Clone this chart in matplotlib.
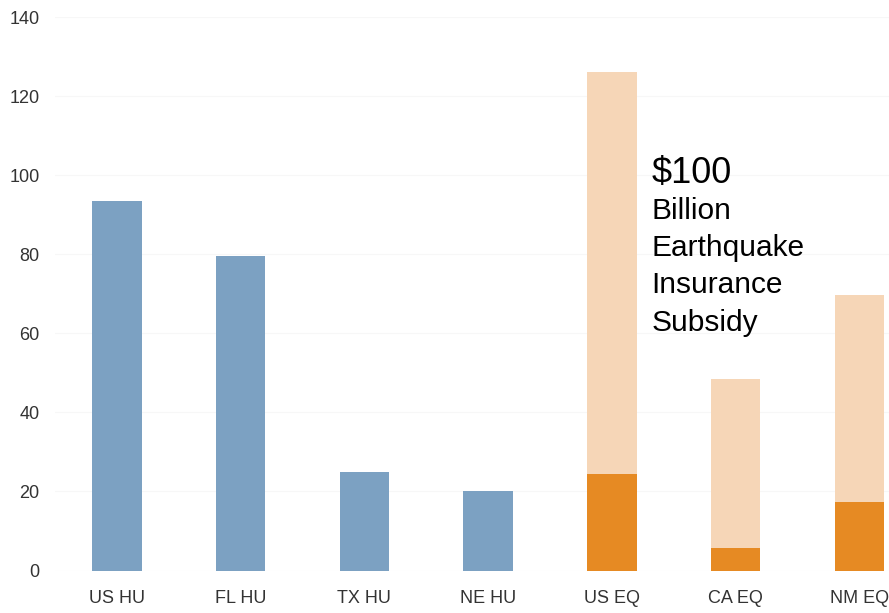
import matplotlib

matplotlib.use("Agg")
import matplotlib.pyplot as plt  # noqa: E402

categories = ["US HU", "FL HU", "TX HU", "NE HU", "US EQ", "CA EQ", "NM EQ"]
hurricane_values = [93.5, 79.5, 25.0, 20.0, 0, 0, 0]
eq_total = [0, 0, 0, 0, 126.0, 48.5, 69.8]
eq_base = [0, 0, 0, 0, 24.5, 5.6, 17.2]
yticks = [0, 20, 40, 60, 80, 100, 120, 140]

BLUE = "#7ca1c2"
LIGHT_ORANGE = "#f6d6b7"
ORANGE = "#e68a23"
TEXT = "#333333"

plt.rcParams.update(
    {
        "font.family": ["Liberation Sans", "DejaVu Sans"],
        "font.size": 13,
    }
)

fig = plt.figure(figsize=(8.89, 6.13), dpi=100)
ax = fig.add_axes([55 / 889, 42.5 / 613, 1 - 55 / 889, 553.5 / 613])

x = list(range(len(categories)))
width = 0.4

hu_idx = [i for i, v in enumerate(hurricane_values) if v > 0]
ax.bar([x[i] for i in hu_idx], [hurricane_values[i] for i in hu_idx],
       width=width, color=BLUE, zorder=2)

eq_idx = [i for i, v in enumerate(eq_total) if v > 0]
ax.bar([x[i] for i in eq_idx], [eq_total[i] for i in eq_idx],
       width=width, color=LIGHT_ORANGE, zorder=2)
ax.bar([x[i] for i in eq_idx], [eq_base[i] for i in eq_idx],
       width=width, color=ORANGE, zorder=3)

ax.set_ylim(0, 140)
ax.set_xlim(-0.5, 6.24)
ax.set_yticks(yticks)
ax.set_xticks(x)
ax.set_xticklabels(categories)
ax.grid(axis="y", color="#f7f7f7", linewidth=0.8, zorder=0)
for side in ["top", "right", "left", "bottom"]:
    ax.spines[side].set_visible(False)
ax.tick_params(axis="both", length=0, colors=TEXT, labelsize=13)
ax.tick_params(axis="y", pad=11)
ax.tick_params(axis="x", pad=14)

ax.text(4.32, 100.5, "$100", fontsize=26, color="black", va="center", ha="left")
note_lines = ["Billion", "Earthquake", "Insurance", "Subsidy"]
for k, line in enumerate(note_lines):
    ax.text(4.32, 91.0 - k * 9.45, line, fontsize=21.5, color="black",
            va="center", ha="left")

fig.savefig("out.png", dpi=100, facecolor="white")
